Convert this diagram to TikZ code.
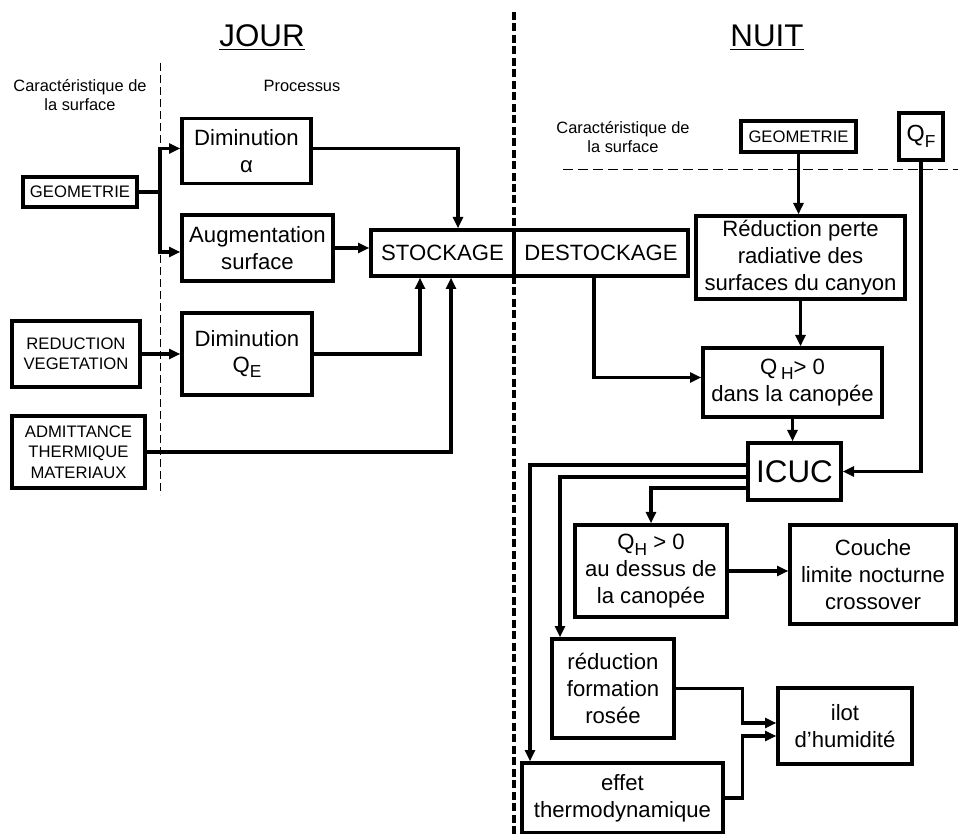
\documentclass[tikz,border=0pt]{standalone}
\usepackage{fontspec}
\setmainfont{Liberation Sans}
\usetikzlibrary{arrows.meta,calc}
\newcommand{\lowidx}[1]{\raisebox{-0.45ex}{\fontsize{13}{13}\selectfont #1}}
\tikzset{every picture/.style={line width=2.5pt}}
\tikzset{
  procbox/.style={draw, line width=2.5pt, align=center, inner sep=0pt, font=\fontsize{16.6}{20}\selectfont},
  surfbox/.style={draw, line width=2.5pt, align=center, inner sep=0pt, font=\fontsize{12.5}{15.2}\selectfont},
  smalltxt/.style={align=center, inner sep=0.75pt, font=\fontsize{12.3}{14.5}\selectfont},
  titletxt/.style={inner sep=0.75pt, font=\fontsize{23.5}{28}\selectfont},
  arr/.style={-{Triangle[length=8.5pt,width=7.5pt]}, line width=2.4pt},
}
\begin{document}
\begin{tikzpicture}[x=0.75pt,y=0.75pt,yscale=-1, xscale=1]
\useasboundingbox (0,0) rectangle (958,834);

%Straight Lines: separations
\draw [line width=2.4pt, dash pattern=on 6pt off 2.6pt] (514,12) -- (514,834) ;
\draw [line width=0.6pt, dash pattern=on 6pt off 3pt] (160,63) -- (160,495) ;
\draw [line width=0.75pt, dash pattern=on 7.5pt off 3.75pt] (563,170) -- (958,170) ;

% Text Node
\node [titletxt, anchor=base] (jour) at (262,47) {\underline{JOUR}};
% Text Node
\node [titletxt, anchor=base] (nuit) at (767,47) {\underline{NUIT}};
% Text Node
\node [smalltxt] (carL) at (80,95) {Caractéristique de\\la surface};
% Text Node
\node [smalltxt] (proc) at (302,86) {Processus};
% Text Node
\node [smalltxt] (carR) at (623,137) {Caractéristique de\\la surface};

%Shape: Rectangle (jour)
\node [surfbox, minimum width=85.5pt, minimum height=22.5pt] (geoL) at (80,192) {GEOMETRIE};
\node [procbox, minimum width=96.75pt, minimum height=48.75pt] (dimA) at (246.5,151) {Diminution\\α};
\node [procbox, minimum width=113.25pt, minimum height=49.5pt] (augS) at (257.5,248) {Augmentation\\surface};
\node [procbox, minimum width=107.25pt, minimum height=34.5pt] (stock) at (442.5,253) {STOCKAGE};
\node [procbox, minimum width=97.5pt, minimum height=61.5pt] (dimQ) at (247,354) {Diminution\\Q\lowidx{E}};
\node [surfbox, minimum width=96pt, minimum height=49.5pt] (redV) at (76,354) {REDUCTION\\VEGETATION};
\node [surfbox, minimum width=99.75pt, minimum height=54pt] (admT) at (78.5,452) {ADMITTANCE\\THERMIQUE\\MATERIAUX};

%Shape: Rectangle (nuit)
\node [procbox, minimum width=130.5pt, minimum height=34.5pt] (destock) at (601,253) {DESTOCKAGE};
\node [surfbox, minimum width=86.25pt, minimum height=23.25pt] (geoR) at (798.5,136.5) {GEOMETRIE};
\node [procbox, minimum width=33pt, minimum height=35.25pt, font=\fontsize{17.5}{20}\selectfont] (qf) at (921,136.5) {Q\lowidx{F}};
\node [procbox, minimum width=156.75pt, minimum height=62.25pt] (redP) at (800.5,257.5) {Réduction perte\\radiative des\\surfaces du canyon};
\node [procbox, minimum width=134.25pt, minimum height=51.75pt] (qhC) at (792.5,382.5) {Q\,\lowidx{H}> 0\\dans la canopée};
\node [procbox, minimum width=69.75pt, minimum height=42.75pt, font=\fontsize{23.5}{28}\selectfont] (icuc) at (794.5,471.5) {ICUC};
\node [procbox, minimum width=114pt, minimum height=69pt] (qhD) at (651,571) {Q\lowidx{H} > 0\\au dessus de\\la canopée};
\node [procbox, minimum width=124.5pt, minimum height=74.25pt] (couche) at (873,574.5) {Couche\\limite nocturne\\crossover};
\node [procbox, minimum width=91.5pt, minimum height=74.25pt] (rosee) at (613,688.5) {réduction\\formation\\rosée};
\node [procbox, minimum width=100.5pt, minimum height=57pt] (ilot) at (845,726) {ilot\\d’humidité};
\node [procbox, minimum width=150.75pt, minimum height=52.5pt] (effet) at (622.5,798) {effet\\thermodynamique};

%Straight Lines: jour
\coordinate (jg) at (160,192);
\draw (geoL.east) -- (jg) ;
\draw [arr] (jg) |- ($(dimA.west)+(0,-2.5)$) ;
\draw [arr] (jg) |- ($(augS.west)+(0,4)$) ;
\draw [arr] ($(dimA.east)+(0,-2.5)$) -| ($(stock.north)+(15.5,0)$) ;
\draw [arr] (augS.east) -- (augS.east -| stock.west) ;
\draw [arr] (dimQ.east) -| ($(stock.south)+(-22.5,0)$) ;
\draw [arr] (redV.east) -- (dimQ.west) ;
\draw [arr] (admT.east) -| ($(stock.south)+(8.5,0)$) ;

%Straight Lines: nuit
\draw [arr] (geoR.south) -- (geoR.south |- redP.north) ;
\draw [arr] (redP.south) -- (redP.south |- qhC.north) ;
\draw [arr] ($(destock.south)+(-7,0)$) |- ($(qhC.west)+(0,-5)$) ;
\draw [arr] (qhC.south) -- (qhC.south |- icuc.north) ;
\draw [arr] (qf.south) |- (icuc.east) ;
\draw [arr] ($(icuc.west)+(0,-6.5)$) -| ($(effet.north)+(-92.5,0)$) ;
\draw [arr] ($(icuc.west)+(0,5.5)$) -| ($(rosee.north)+(-53,0)$) ;
\draw [arr] ($(icuc.west)+(0,16.5)$) -| (qhD.north) ;
\draw [arr] (qhD.east) -- (qhD.east -| couche.west) ;
\draw [arr] (rosee.east) -- ++(67,0) |- ($(ilot.west)+(0,-3)$) ;
\draw [arr] (effet.east) -- ++(18,0) |- ($(ilot.west)+(0,10)$) ;
\end{tikzpicture}
\end{document}
